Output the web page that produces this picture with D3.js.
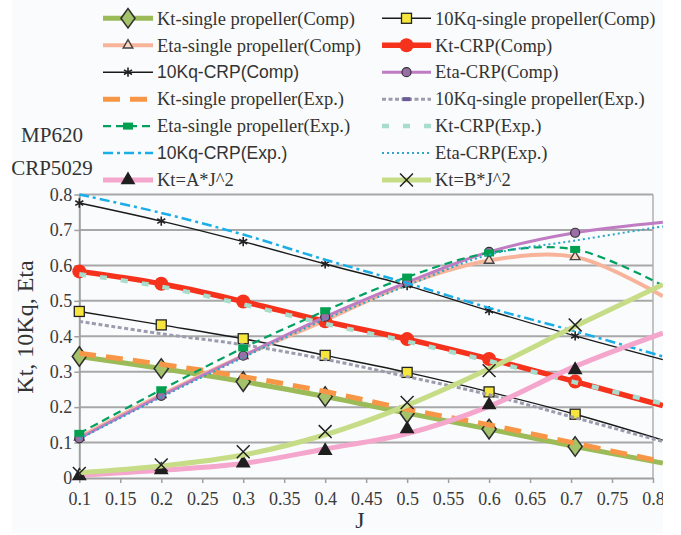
<!DOCTYPE html>
<html><head><meta charset="utf-8">
<script src="https://cdn.jsdelivr.net/npm/d3@7"></script>
<style>
html,body{margin:0;padding:0;background:#ffffff;}
svg{display:block;}
</style></head>
<body>
<script>
// ---- data ----
const J = [0.1, 0.2, 0.3, 0.4, 0.5, 0.6, 0.705, 0.812];
const ktSingleComp   = [0.343, 0.309, 0.272, 0.230, 0.183, 0.138, 0.089, 0.042];
const kq10SingleComp = [0.470, 0.432, 0.393, 0.346, 0.298, 0.243, 0.180, 0.107];
const etaSingleComp  = [0.115, 0.235, 0.345, 0.445, 0.548, 0.614, 0.624, 0.513];
const ktCrpComp      = [0.583, 0.548, 0.498, 0.442, 0.392, 0.336, 0.272, 0.204];
const kq10CrpComp    = [0.776, 0.725, 0.667, 0.604, 0.543, 0.472, 0.401, 0.334];
const etaCrpComp     = [0.112, 0.232, 0.345, 0.455, 0.552, 0.638, 0.692, 0.722];
const ktSingleExp    = [0.352, 0.321, 0.286, 0.244, 0.194, 0.150, 0.098, 0.046];
const kq10SingleExp  = [0.442, 0.407, 0.376, 0.335, 0.286, 0.235, 0.170, 0.103];
const etaSingleExp   = [0.126, 0.249, 0.367, 0.472, 0.567, 0.635, 0.645, 0.543];
const ktCrpExp       = [0.575, 0.540, 0.490, 0.435, 0.385, 0.330, 0.270, 0.210];
const etaCrpExp      = [0.110, 0.228, 0.340, 0.448, 0.543, 0.630, 0.670, 0.710];
const kq10CrpExp     = [0.800, 0.748, 0.687, 0.616, 0.550, 0.480, 0.414, 0.343];
const ktALine        = [0.008, 0.022, 0.041, 0.082, 0.125, 0.202, 0.315, 0.409];
const ktAPoints      = [0.006, 0.023, 0.042, 0.077, 0.138, 0.206, 0.305];
const ktBLine        = [0.015, 0.034, 0.065, 0.122, 0.205, 0.308, 0.428, 0.546];
const ktBPoints      = [0.013, 0.037, 0.074, 0.131, 0.213, 0.303, 0.432];
const xTicks = [0.1,0.15,0.2,0.25,0.3,0.35,0.4,0.45,0.5,0.55,0.6,0.65,0.7,0.75,0.8];
const yTicks = [0,0.1,0.2,0.3,0.4,0.5,0.6,0.7,0.8];
const titleLines = ["MP620", "CRP5029"];

const W = 681, H = 535;
const SERIF = "Liberation Serif, Times New Roman, serif";
const SANS = "Liberation Sans, Arial, sans-serif";
const svg = d3.select("body").append("svg").attr("width", W).attr("height", H);
const defs = svg.append("defs");
defs.append("clipPath").attr("id","clipR").append("rect").attr("x",0).attr("y",0).attr("width",663).attr("height",H);
defs.append("filter").attr("id","soft").attr("filterUnits","userSpaceOnUse")
  .attr("x",-20).attr("y",-20).attr("width",W+40).attr("height",H+40)
  .append("feGaussianBlur").attr("stdDeviation",0.6);
defs.append("filter").attr("id","softm").attr("x","-50%").attr("y","-50%").attr("width","200%").attr("height","200%")
  .append("feGaussianBlur").attr("stdDeviation",0.7);

svg.append("rect").attr("x",12).attr("y",0).attr("width",651).attr("height",533).attr("fill","#fafbfc");

const x = d3.scaleLinear().domain([0.1,0.8]).range([79.3,653]);
const y = d3.scaleLinear().domain([0,0.8]).range([478,194.5]);

const root = svg.append("g").attr("clip-path","url(#clipR)");

// grid
root.append("g").selectAll("line").data(yTicks.slice(1)).join("line")
  .attr("x1",x(0.1)).attr("x2",x(0.8)).attr("y1",d=>y(d)).attr("y2",d=>y(d))
  .attr("stroke","#a8a8a8").attr("stroke-width",2);
root.append("line").attr("x1",x(0.8)).attr("x2",x(0.8)).attr("y1",y(0.8)).attr("y2",y(0))
  .attr("stroke","#b0b0b0").attr("stroke-width",1.5);

// axes
const xAxis = d3.axisBottom(x).tickValues(xTicks).tickSize(5).tickSizeOuter(0).tickFormat(d=>String(+d.toFixed(2)));
const gx = root.append("g").attr("transform",`translate(0,${y(0)})`).call(xAxis);
gx.select(".domain").attr("stroke","#a0a0a0").attr("stroke-width",2);
gx.selectAll(".tick line").attr("stroke","#a0a0a0").attr("stroke-width",1.5);
gx.selectAll("text").attr("font-family",SERIF).attr("font-size",18).attr("fill","#3a3a3a").attr("dy","1.05em");

const yAxis = d3.axisLeft(y).tickValues(yTicks).tickSize(5).tickSizeOuter(0).tickFormat(d=>String(+d.toFixed(1)));
const gy = root.append("g").attr("transform",`translate(${x(0.1)},0)`).call(yAxis);
gy.select(".domain").attr("stroke","#a0a0a0").attr("stroke-width",2);
gy.selectAll(".tick line").attr("stroke","#a0a0a0").attr("stroke-width",1.5);
gy.selectAll("text").attr("font-family",SERIF).attr("font-size",18).attr("fill","#3a3a3a").attr("x",-7);

// axis titles
svg.append("text").attr("transform",`translate(33,327) rotate(-90)`).attr("text-anchor","middle")
  .attr("font-family",SERIF).attr("font-size",24).attr("fill","#333").text("Kt, 10Kq, Eta");
svg.append("text").attr("x",360).attr("y",528).attr("text-anchor","middle")
  .attr("font-family",SERIF).attr("font-size",24).attr("fill","#333").text("J");
svg.append("g").selectAll("text").data(titleLines).join("text")
  .attr("x",52).attr("y",(d,i)=>142+i*33).attr("text-anchor","middle")
  .attr("font-family",SERIF).attr("font-size",21).attr("fill","#333").text(d=>d);

// series definitions
const series = [
  {name:"Kt-single propeller(Comp)", vals:ktSingleComp, color:"#9bbb59", w:5, dash:null, marker:"diamond", font:SERIF},
  {name:"10Kq-single propeller(Comp)", vals:kq10SingleComp, color:"#1a1a1a", w:1.4, dash:null, marker:"square", font:SERIF},
  {name:"Eta-single propeller(Comp)", vals:etaSingleComp, color:"#f8b49a", w:4, dash:null, marker:"tri", font:SERIF},
  {name:"Kt-CRP(Comp)", vals:ktCrpComp, color:"#f5301e", w:5.5, dash:null, marker:"bigcircle", font:SERIF},
  {name:"10Kq-CRP(Comp)", vals:kq10CrpComp, color:"#1a1a1a", w:1.4, dash:null, marker:"star", font:SANS},
  {name:"Eta-CRP(Comp)", vals:etaCrpComp, color:"#bf7cc2", w:3, dash:null, marker:"pcircle", font:SERIF},
  {name:"Kt-single propeller(Exp.)", vals:ktSingleExp, color:"#f79646", w:5, dash:"17,10", marker:null, font:SERIF},
  {name:"10Kq-single propeller(Exp.)", vals:kq10SingleExp, color:"#9c9cae", w:3, dash:"4,2.5", marker:"prect", font:SERIF},
  {name:"Eta-single propeller(Exp.)", vals:etaSingleExp, color:"#00a060", w:2.2, dash:"8,5", marker:"grect", font:SERIF},
  {name:"Kt-CRP(Exp.)", vals:ktCrpExp, color:"#a8dccc", w:4.5, dash:"7,14", marker:null, font:SERIF},
  {name:"10Kq-CRP(Exp.)", vals:kq10CrpExp, color:"#1aaee8", w:2.5, dash:"10,4,3,4", marker:null, font:SANS},
  {name:"Eta-CRP(Exp.)", vals:etaCrpExp, color:"#2ba6c4", w:2, dash:"2,3", marker:null, font:SERIF},
  {name:"Kt=A*J^2", vals:ktALine, pts:ktAPoints, color:"#f4a6cc", w:5, dash:null, marker:"btri", font:SERIF},
  {name:"Kt=B*J^2", vals:ktBLine, pts:ktBPoints, color:"#c6dc86", w:5, dash:null, marker:"bx", font:SERIF}
];
const drawOrder = [0,1,2,3,4,5,6,7,8,9,11,10,12,13];

function drawMarker(g, type, cx, cy){
  const s = g.append("g").attr("transform",`translate(${cx},${cy})`);
  switch(type){
    case "diamond":
      s.append("path").attr("d",d3.symbol(d3.symbolDiamond,110)()).attr("fill","#a3c26a").attr("stroke","#2d2d2d").attr("stroke-width",1.3).attr("transform","scale(1.25,1)"); break;
    case "square":
      s.append("rect").attr("x",-5).attr("y",-5).attr("width",10).attr("height",10).attr("fill","#f6e53c").attr("stroke","#222").attr("stroke-width",1.3); break;
    case "tri":
      s.append("path").attr("d",d3.symbol(d3.symbolTriangle,40)()).attr("fill","#fbd7c2").attr("stroke","#444").attr("stroke-width",1.4); break;
    case "bigcircle":
      s.append("circle").attr("r",7).attr("fill","#f5301e").attr("filter","url(#softm)"); break;
    case "star":
      s.append("path").attr("d",d3.symbol(d3.symbolAsterisk,60)()).attr("fill","none").attr("stroke","#222").attr("stroke-width",1.6); break;
    case "pcircle":
      s.append("circle").attr("r",4.5).attr("fill","#9a6fa8").attr("stroke","#333").attr("stroke-width",1.2); break;
    case "prect":
      s.append("rect").attr("x",-4).attr("y",-2).attr("width",8).attr("height",4).attr("fill","#6a5a9a"); break;
    case "grect":
      s.append("rect").attr("x",-5).attr("y",-3.5).attr("width",10).attr("height",7).attr("fill","#00a050"); break;
    case "btri":
      s.append("path").attr("d",d3.symbol(d3.symbolTriangle,95)()).attr("fill","#1e1e1e"); break;
    case "bx":
      s.append("path").attr("d",d3.symbol(d3.symbolX,110)()).attr("fill","none").attr("stroke","#222").attr("stroke-width",1.5); break;
  }
}

const line = d3.line().x(d=>x(d[0])).y(d=>y(d[1])).curve(d3.curveCatmullRom.alpha(0.5));
const plotG = root.append("g");
drawOrder.forEach(i=>{
  const s = series[i];
  const pts = J.map((j,k)=>[j,s.vals[k]]);
  plotG.append("path").datum(pts).attr("d",line).attr("fill","none")
    .attr("stroke",s.color).attr("stroke-width",s.w)
    .attr("stroke-dasharray",s.dash).attr("stroke-linejoin","round")
    .attr("filter", s.w>=4 ? "url(#soft)" : null);
  if(s.marker && s.marker!=="prect"){
    const mv = s.pts || s.vals.slice(0,7);
    mv.forEach((v,k)=>{ drawMarker(plotG, s.marker, x(J[k]), y(v)); });
  }
});

// legend
const legG = svg.append("g");
const rowY = d=>18.3 + d*26.95;
series.forEach((s,i)=>{
  const col = i%2, row = Math.floor(i/2);
  const x0 = col===0 ? 103 : 382, x1 = col===0 ? 153 : 431;
  const tx = col===0 ? 157 : 435;
  const cy = rowY(row);
  legG.append("line").attr("x1",x0).attr("x2",x1).attr("y1",cy).attr("y2",cy)
    .attr("stroke",s.color).attr("stroke-width",s.w).attr("stroke-dasharray",s.dash)
    .attr("filter", s.w>=4 ? "url(#soft)" : null);
  if(s.marker) drawMarker(legG, s.marker, (x0+x1)/2, cy);
  legG.append("text").attr("x",tx).attr("y",cy).attr("dy","0.34em")
    .attr("font-family",s.font).attr("font-size", s.font===SANS ? 17.5 : 18.5).attr("fill","#333").text(s.name);
});
</script>
</body></html>
